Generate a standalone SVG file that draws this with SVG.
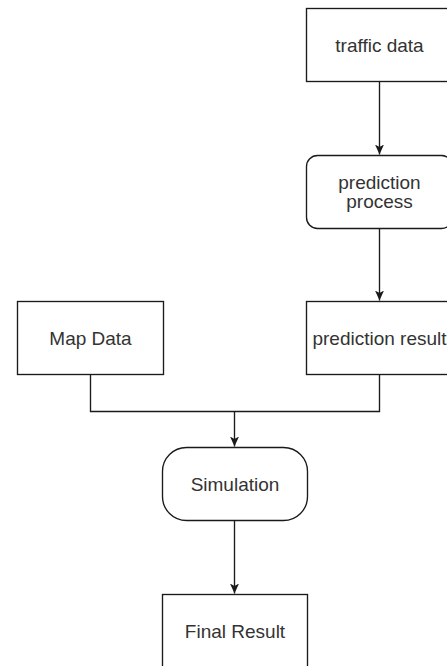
<svg xmlns="http://www.w3.org/2000/svg" width="447" height="666" viewBox="0 0 447 666">
  <defs>
    <style>
      .box { fill: #ffffff; stroke: #1a1a1a; stroke-width: 1.35; }
      .edge { fill: none; stroke: #1a1a1a; stroke-width: 1.35; }
      .label { font-family: "Liberation Sans", Arial, sans-serif; font-size: 19px; fill: #333333; text-anchor: middle; }
    </style>
    <marker id="arrow" markerUnits="userSpaceOnUse" markerWidth="12" markerHeight="12" viewBox="0 0 12 12" refX="10" refY="6" orient="auto">
      <path d="M0,1.5 L10,6 L0,10.5 L2.5,6 Z" fill="#1a1a1a"/>
    </marker>
  </defs>
  <rect width="447" height="666" fill="#ffffff"/>

  <!-- connectors -->
  <g id="connectors">
    <path class="edge" d="M379.5,81.5 V154.5" marker-end="url(#arrow)"/>
    <path class="edge" d="M379.5,228.5 V300.5" marker-end="url(#arrow)"/>
    <path class="edge" d="M90.5,374.5 V411.5 H379.5 V374.5"/>
    <path class="edge" d="M234.5,411.5 V446.5" marker-end="url(#arrow)"/>
    <path class="edge" d="M234.5,520.5 V593.5" marker-end="url(#arrow)"/>
  </g>

  <!-- nodes -->
  <g id="traffic-data">
    <rect class="box" x="306.5" y="8.5" width="146" height="73"/>
    <text class="label" x="379.5" y="52">traffic data</text>
  </g>
  <g id="prediction-process">
    <rect class="box" x="306.5" y="155.5" width="146" height="73" rx="11" ry="11"/>
    <text class="label" x="379.5" y="188.5">prediction</text>
    <text class="label" x="379.5" y="207.5">process</text>
  </g>
  <g id="map-data">
    <rect class="box" x="17.5" y="301.5" width="146" height="73"/>
    <text class="label" x="90.5" y="345">Map Data</text>
  </g>
  <g id="prediction-result">
    <rect class="box" x="306.5" y="301.5" width="146" height="73"/>
    <text class="label" x="379.5" y="345">prediction result</text>
  </g>
  <g id="simulation">
    <rect class="box" x="162.5" y="447.5" width="145" height="73" rx="24" ry="24"/>
    <text class="label" x="235" y="491">Simulation</text>
  </g>
  <g id="final-result">
    <rect class="box" x="162.5" y="594.5" width="145" height="73"/>
    <text class="label" x="235" y="637.5">Final Result</text>
  </g>
</svg>
